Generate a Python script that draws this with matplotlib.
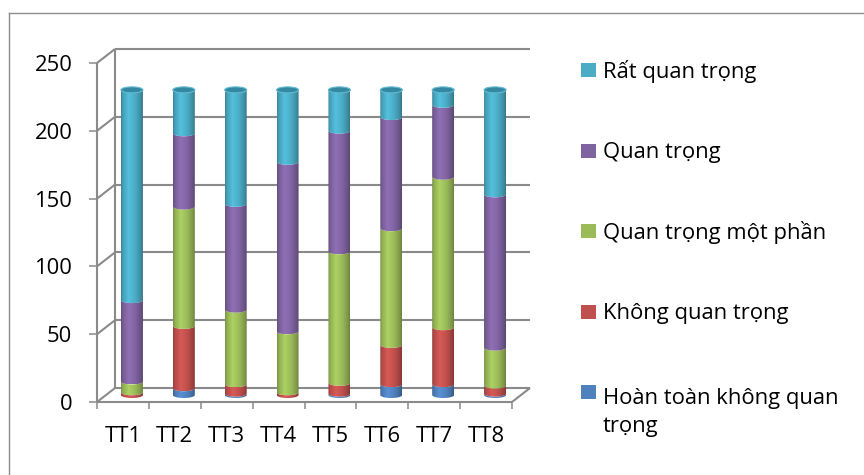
import numpy as np
import matplotlib
matplotlib.use("Agg")
import matplotlib.pyplot as plt
import matplotlib.transforms as mtransforms
from matplotlib.path import Path
from matplotlib.patches import PathPatch, Ellipse, Rectangle
from matplotlib.lines import Line2D
from matplotlib.colors import to_rgb

categories = ["TT1", "TT2", "TT3", "TT4", "TT5", "TT6", "TT7", "TT8"]
hoan_toan_khong = [0, 5, 1, 0, 1, 8, 8, 1]
khong_quan_trong = [2, 46, 7, 2, 8, 29, 42, 6]
mot_phan = [8, 88, 55, 45, 97, 86, 111, 28]
quan_trong = [60, 54, 78, 125, 89, 82, 53, 113]
rat_quan_trong = [155, 32, 84, 53, 30, 20, 11, 77]
series_labels = ["Hoàn toàn không quan\ntrọng", "Không quan trọng",
                 "Quan trọng một phần", "Quan trọng", "Rất quan trọng"]
y_ticks = [0, 50, 100, 150, 200, 250]

colors = ["#4F81BD", "#C0504D", "#9BBB59", "#8064A2", "#4BACC6"]
grid_c = "#8a8a8a"

plt.rcParams["font.family"] = ["Open Sans", "DejaVu Sans"]
FS = 15.8

W, H, DPI = 864, 475, 100
fig = plt.figure(figsize=(W / DPI, H / DPI), dpi=DPI)

# front plane of the plot box in pixels
x0p, x1p, y0p, y1p = 97, 512, 402, 63
ax = fig.add_axes([x0p / W, 1 - y0p / H, (x1p - x0p) / W, (y0p - y1p) / H])
ax.set_xlim(0, 8)
ax.set_ylim(0, 250)
ax.patch.set_visible(False)
for s in ax.spines.values():
    s.set_visible(False)

# depth offset of the back wall, in data units
px_x = (x1p - x0p) / 8
px_y = (y0p - y1p) / 250
ddx, ddy = 18 / px_x, 14 / px_y

lkw = dict(color=grid_c, lw=1.5, clip_on=False, solid_capstyle="butt", zorder=1)
for v in y_ticks:
    ax.plot([ddx, 8 + ddx], [v + ddy, v + ddy], **lkw)
    ax.plot([0, ddx], [v, v + ddy], **lkw)
ax.plot([0, 0], [0, 250], **lkw)
ax.plot([ddx, ddx], [ddy, 250 + ddy], **lkw)
ax.plot([0, 8], [0, 0], **lkw)
ax.plot([8, 8 + ddx], [0, ddy], **lkw)

# ticks and labels
ax.set_yticks(y_ticks)
ax.set_yticklabels([str(v) for v in y_ticks], fontsize=FS)
ax.tick_params(axis="y", length=5.8, width=1.1, color=grid_c, pad=12)
ax.set_xticks(np.arange(9))
ax.set_xticklabels([])
ax.set_xticks(np.arange(8) + 0.5, minor=True)
ax.set_xticklabels(categories, minor=True, fontsize=FS)
ax.tick_params(axis="x", which="major", length=5, width=1.1, color=grid_c)
ax.tick_params(axis="x", which="minor", length=0, pad=17)

# cylinders sit halfway into the depth
mid = ax.transData + mtransforms.ScaledTranslation(0.09, 0.07, fig.dpi_scale_trans)
a = 0.212
b = 3 / px_y
th = np.linspace(np.pi, 0, 40)

tt = [0, 0.08, 0.35, 0.65, 0.9, 1]
kk = [0.78, 0.92, 1.12, 1.0, 0.82, 0.70]
shade = np.interp(np.linspace(0, 1, 60), tt, kk)

series = [hoan_toan_khong, khong_quan_trong, mot_phan, quan_trong, rat_quan_trong]
bottom = np.zeros(len(categories))
for vals, col in zip(series, colors):
    rgb = np.array(to_rgb(col))
    grad = np.clip(shade[:, None] * rgb[None, :], 0, 1)[None, :, :]
    for i, val in enumerate(vals):
        if val <= 0:
            continue
        xc = i + 0.5
        lo, hi = bottom[i], bottom[i] + val
        top_x = xc + a * np.cos(th)
        top_y = hi - b * np.sin(th)
        bot_x = xc + a * np.cos(th[::-1])
        bot_y = lo - b * np.sin(th[::-1])
        verts = np.vstack([np.column_stack([top_x, top_y]),
                           np.column_stack([bot_x, bot_y]),
                           [[top_x[0], top_y[0]]]])
        codes = [Path.MOVETO] + [Path.LINETO] * (len(verts) - 2) + [Path.CLOSEPOLY]
        patch = PathPatch(Path(verts, codes), transform=mid, facecolor="none",
                          edgecolor="none", zorder=3)
        ax.add_patch(patch)
        im = ax.imshow(grad, extent=[xc - a, xc + a, lo - b, hi], aspect="auto",
                       transform=mid, interpolation="bilinear", zorder=3)
        im.set_clip_path(patch)
    bottom += np.array(vals)

# top caps
for i, tot in enumerate(bottom):
    ax.add_patch(Ellipse((i + 0.5, tot), 2 * a, 2 * b, transform=mid,
                         facecolor="#3489a2", edgecolor="#5fb8cf", lw=0.8, zorder=4))

ax.set_xlim(0, 8)
ax.set_ylim(0, 250)

# legend, first text line centred on its colour key
line_px = 1.45 * FS * DPI / 72
for k in range(5):
    idx = 4 - k
    cy = 70 + k * 80.6
    fig.patches.append(Rectangle((581 / W, 1 - (cy + 7) / H), 15 / W, 14 / H,
                                 transform=fig.transFigure, facecolor=colors[idx],
                                 edgecolor="none"))
    extra = series_labels[idx].count("\n") * line_px
    fig.text(603 / W, 1 - (cy + 7.5 + extra) / H, series_labels[idx], fontsize=FS,
             va="baseline", ha="left", linespacing=1.45)

# outer chart frame
fig.add_artist(Line2D([9 / W, 1.01], [1 - 13 / H, 1 - 13 / H], color="#8c8c8c", lw=1,
                      transform=fig.transFigure))
fig.add_artist(Line2D([9 / W, 9 / W], [-0.01, 1 - 13 / H], color="#8c8c8c", lw=1,
                      transform=fig.transFigure))

fig.savefig("out.png", dpi=DPI)
